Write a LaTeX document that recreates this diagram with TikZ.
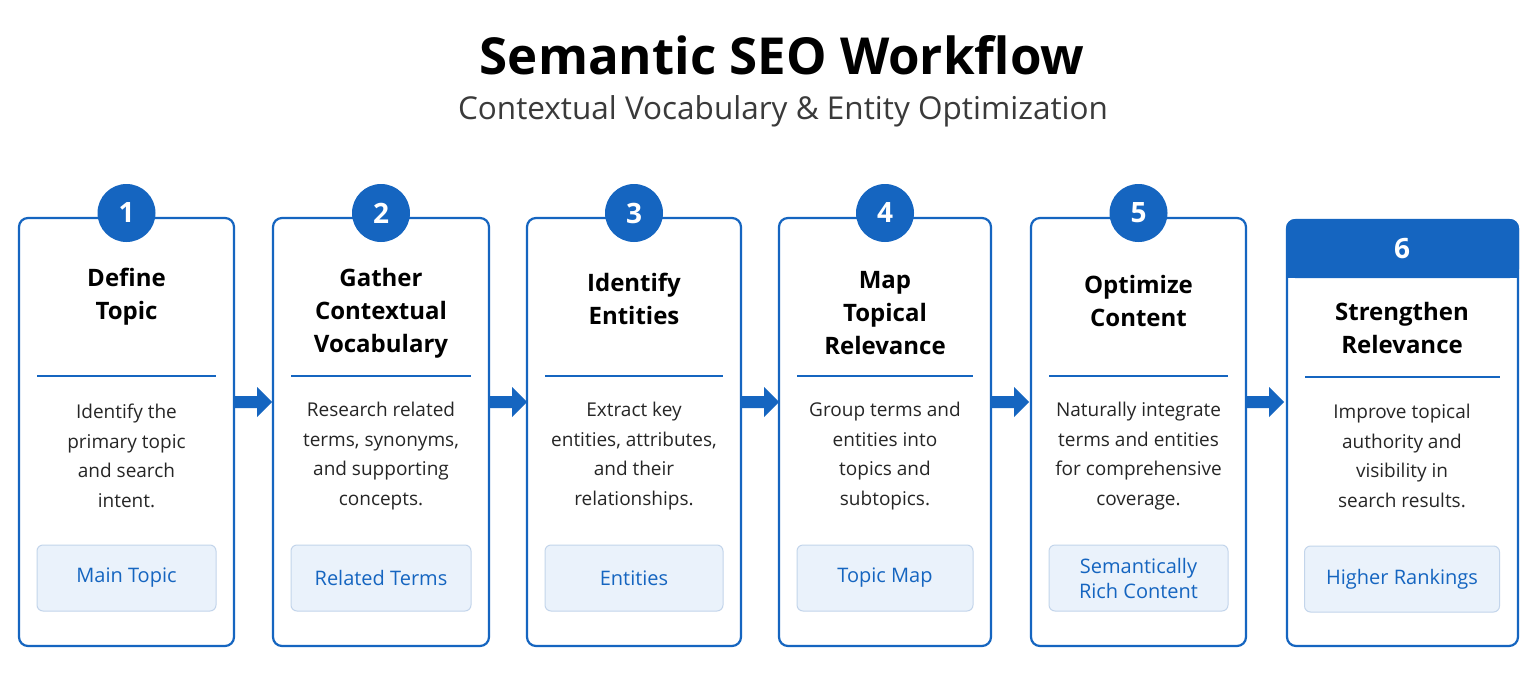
\documentclass[tikz,border=0pt]{standalone}
\usepackage{fontspec}
\setmainfont{Open Sans}
\definecolor{bl}{HTML}{1565C0}
\definecolor{tagf}{HTML}{EAF2FB}
\definecolor{tagd}{HTML}{C3D5EB}
\definecolor{gr}{HTML}{3A3A3A}
\begin{document}
\begin{tikzpicture}[x=1pt,y=-1pt,
 card/.style={draw=bl,line width=2.2pt,rounded corners=9pt,fill=white},
 num/.style={circle,fill=bl,minimum size=58pt,inner sep=0pt,text=white,font=\fontsize{28}{28}\selectfont\bfseries},
 ttl/.style={align=center,font=\fontsize{24}{33}\selectfont\bfseries,text=black},
 body/.style={align=center,font=\fontsize{19}{29.5}\selectfont,text=black!85},
 tag/.style={draw=tagd,fill=tagf,rounded corners=6pt,line width=1pt,align=center,text=bl,font=\fontsize{20}{25}\selectfont},
 arr/.style={fill=bl,draw=none}]
\useasboundingbox (0,0) rectangle (1536,682);
\fill[white] (0,0) rectangle (1536,682);
\node (t) at (782,55) {\fontsize{51}{51}\selectfont\bfseries Semantic SEO Workflow};
\node[text=gr] (st) at (783,111) {\fontsize{31.5}{31.5}\selectfont Contextual Vocabulary \& Entity Optimization};
\foreach \i/\l/\r/\ty/\tt/\bd/\tg in {
 1/19/234/297/{Define\\Topic}/{Identify the\\primary topic\\and search\\intent.}/{Main Topic},
 2/273/489/313/{Gather\\Contextual\\Vocabulary}/{Research related\\terms, synonyms,\\and supporting\\concepts.}/{Related Terms},
 3/527/741/299/{Identify\\Entities}/{Extract key\\entities, attributes,\\and their\\relationships.}/{Entities},
 4/779/991/313/{Map\\Topical\\Relevance}/{Group terms and\\entities into\\topics and\\subtopics.}/{Topic Map},
 5/1031/1246/301/{Optimize\\Content}/{Naturally integrate\\terms and entities\\for comprehensive\\coverage.}/{Semantically\\Rich Content}}{
 \draw[card] (\l,218) rectangle (\r,646);
 \node[num] (n\i) at ({(\l+\r)/2},213) {\i};
 \node[ttl] (h\i) at ({(\l+\r)/2},\ty) {\tt};
 \draw[bl,line width=1.3pt] (\l+18,376) -- (\r-18,376);
 \node[body] (b\i) at ({(\l+\r)/2},456) {\bd};
 \node[tag,minimum width={\r-\l-36},minimum height=66pt] (g\i) at ({(\l+\r)/2},578) {\tg};
}
\draw[card] (1287,220) rectangle (1518,646);
\fill[bl,rounded corners=9pt] (1286,219) rectangle (1519,278);
\fill[bl] (1286,250) rectangle (1519,278);
\node[text=white,font=\fontsize{28}{28}\selectfont\bfseries] (n6) at (1402,249) {6};
\node[ttl] (h6) at (1402,328) {Strengthen\\Relevance};
\draw[bl,line width=1.3pt] (1305,377) -- (1500,377);
\node[body] (b6) at (1402,456) {Improve topical\\authority and\\visibility in\\search results.};
\node[tag,minimum width=195pt,minimum height=66pt] (g6) at (1402,579) {Higher Rankings};
\foreach \x in {235,490,742,992,1247}{
 \fill[arr] (\x,396) -- (\x+22,396) -- (\x+22,387) -- (\x+37,402) -- (\x+22,417) -- (\x+22,408) -- (\x,408) -- cycle;
}
\end{tikzpicture}
\end{document}
